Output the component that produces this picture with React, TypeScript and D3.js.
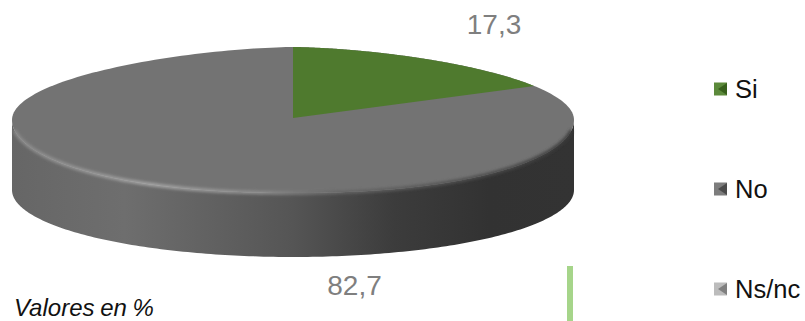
import React from "react";
import * as d3 from "d3";

const categories = ["Si", "No", "Ns/nc"];
const values = [17.3, 82.7, 0];
const valueLabels = ["17,3", "82,7"];
const sliceColors = ["#4f7a2e", "#737373", "#a5a5a5"];
const swatchDark = ["#38601c", "#4c4c4c", "#808080"];
const swatchLight = ["#5c8a3a", "#7d7d7d", "#bcbcbc"];

const W = 805, H = 321;
const cx = 293, cyTop = 120, apexY = 118, rx = 281, ryTop = 73, cyBottom = 190, ryBottom = 67;

const pw = (v: number, p: number) => Math.sign(v) * Math.pow(Math.abs(v), p);
const px = (a: number, p: number) => cx + rx * pw(Math.sin(a), p);
const py = (a: number, cy: number, ry: number) => cy - ry * Math.cos(a);

// Top face: flatter shoulders at the back, fuller at the front (slight perspective)
const topPts = (a0: number, a1: number) =>
  d3.range(0, 241).map((i) => {
    const a = a0 + ((a1 - a0) * i) / 240;
    const p = Math.cos(a) > 0 ? 1.25 : 0.9;
    return [px(a, p), py(a, cyTop, ryTop)] as [number, number];
  });
const bottomPts = (a0: number, a1: number) =>
  d3.range(0, 181).map((i) => {
    const a = a0 + ((a1 - a0) * i) / 180;
    return [px(a, 1), py(a, cyBottom, ryBottom)] as [number, number];
  });
const line = d3.line();

const pieData = d3.pie<number>().sort(null).value((d) => d)(values);
const legendY = d3.scalePoint<string>().domain(categories).range([89, 289]);

const fullOutline = line(topPts(0, Math.PI * 2))! + "Z";
const sidePath =
  line([...topPts(Math.PI / 2, (Math.PI * 3) / 2), ...bottomPts((Math.PI * 3) / 2, Math.PI / 2)])! + "Z";
const frontEdge = line(topPts(Math.PI * 1.5 - 0.14, Math.PI * 0.5 + 0.14))!;

export default function App() {
  return (
    <svg
      width={W}
      height={H}
      viewBox={`0 0 ${W} ${H}`}
      style={{ position: "absolute", left: 0, top: 0, background: "#fff" }}
      fontFamily="'Liberation Sans', Arial, sans-serif"
    >
      <defs>
        <linearGradient id="side" gradientUnits="userSpaceOnUse" x1={12} x2={574} y1={0} y2={0}>
          <stop offset="0" stopColor="#666666" />
          <stop offset="0.2" stopColor="#6e6e6e" />
          <stop offset="0.5" stopColor="#555555" />
          <stop offset="0.68" stopColor="#3c3c3c" />
          <stop offset="0.85" stopColor="#323232" />
          <stop offset="1" stopColor="#333333" />
        </linearGradient>
        <linearGradient id="edge" gradientUnits="userSpaceOnUse" x1={12} x2={574} y1={0} y2={0}>
          <stop offset="0" stopColor="#8a8a8a" />
          <stop offset="0.25" stopColor="#a6a6a6" />
          <stop offset="0.45" stopColor="#8c8c8c" />
          <stop offset="0.58" stopColor="#666666" />
          <stop offset="0.8" stopColor="#505050" />
          <stop offset="1" stopColor="#3a3a3a" />
        </linearGradient>
        <filter id="soft" x="-5%" y="-20%" width="110%" height="140%">
          <feGaussianBlur stdDeviation="1.4" />
        </filter>
        <filter id="swBlur" x="-20%" y="-20%" width="140%" height="140%">
          <feGaussianBlur stdDeviation="0.5" />
        </filter>
      </defs>

      <path d={sidePath} fill="url(#side)" />
      <path d={fullOutline} fill={sliceColors[1]} />
      <path d={frontEdge} fill="none" stroke="url(#edge)" strokeWidth={3.5} filter="url(#soft)" />
      {pieData
        .filter((d) => d.value > 0 && d.index === 0)
        .map((d) => (
          <path
            key={d.index}
            d={line([[cx, apexY], ...topPts(d.startAngle, d.endAngle)])! + "Z"}
            fill={sliceColors[d.index]}
          />
        ))}

      <text x={494} y={34} fontSize={28} fill="#7f7f7f" textAnchor="middle">{valueLabels[0]}</text>
      <text x={354.5} y={295} fontSize={28} fill="#7f7f7f" textAnchor="middle">{valueLabels[1]}</text>

      {categories.map((c, i) => {
        const y = legendY(c)!;
        return (
          <g key={c}>
            <g filter="url(#swBlur)">
              <rect x={714} y={y - 6.5} width={13} height={13} fill={swatchLight[i]} />
              <path
                d={line([[727, y - 6], [718, y], [727, y + 6]])! + "Z"}
                fill={swatchDark[i]}
              />
            </g>
            <text x={735} y={y + 8.5} fontSize={25.5} fill="#111">{c}</text>
          </g>
        );
      })}

      <text x={14} y={315.8} fontSize={24} fontStyle="italic" fill="#111" wordSpacing={-1}>Valores en %</text>
      <rect x={567} y={266} width={6} height={55} fill="#a6d58a" />
    </svg>
  );
}
